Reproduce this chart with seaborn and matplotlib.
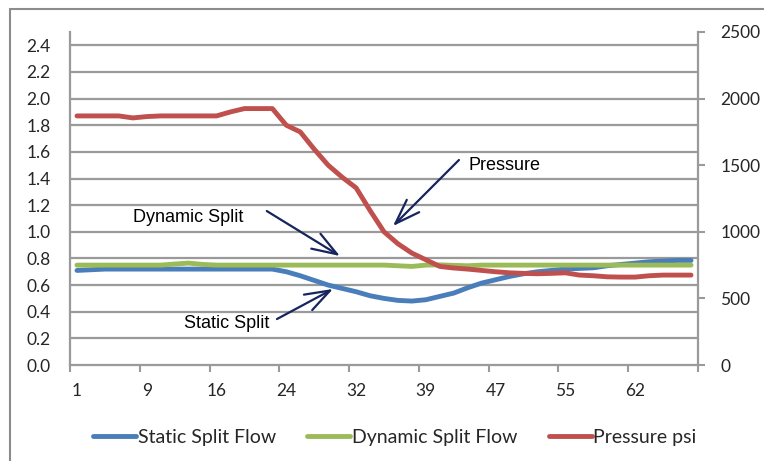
import numpy as np
import pandas as pd
import matplotlib
matplotlib.use("Agg")
import matplotlib.pyplot as plt
import seaborn as sns
from matplotlib.lines import Line2D

# values, one point per sample
static_split = [0.71, 0.715, 0.72, 0.72, 0.72, 0.72, 0.72, 0.72, 0.72, 0.72,
                0.72, 0.72, 0.72, 0.72, 0.72, 0.70, 0.67, 0.635, 0.60, 0.575,
                0.55, 0.52, 0.50, 0.485, 0.48, 0.49, 0.515, 0.54, 0.58, 0.615,
                0.64, 0.665, 0.685, 0.70, 0.71, 0.72, 0.725, 0.73, 0.745, 0.755,
                0.765, 0.775, 0.78, 0.785, 0.785]
dynamic_split = [0.75, 0.75, 0.75, 0.75, 0.75, 0.75, 0.75, 0.758, 0.765, 0.755,
                 0.75, 0.75, 0.75, 0.75, 0.75, 0.75, 0.75, 0.75, 0.75, 0.75,
                 0.75, 0.75, 0.75, 0.745, 0.74, 0.75, 0.752, 0.748, 0.745, 0.75,
                 0.75, 0.75, 0.75, 0.75, 0.75, 0.75, 0.75, 0.75, 0.75, 0.75,
                 0.75, 0.75, 0.75, 0.75, 0.75]
pressure = [1870, 1870, 1870, 1870, 1855, 1865, 1870, 1870, 1870, 1870,
            1870, 1900, 1925, 1925, 1925, 1800, 1750, 1620, 1500, 1410,
            1330, 1160, 1000, 910, 840, 790, 740, 728, 720, 710,
            700, 692, 688, 685, 688, 692, 675, 670, 662, 660,
            660, 670, 675, 675, 675]
tick_labels = ["1", "9", "16", "24", "32", "39", "47", "55", "62"]
label_every = 5

sample = np.arange(len(pressure))
df = pd.DataFrame({"sample": sample, "static": static_split,
                   "dynamic": dynamic_split, "pressure": pressure})

sns.set_style("white")
plt.rcParams["font.family"] = ["Lato", "DejaVu Sans"]

blue, green, red = "#4A7EBB", "#9BBB59", "#C0504D"
grid_c = "#9a9a9a"
navy = "#17255e"

fig = plt.figure(figsize=(7.64, 4.61), dpi=100)
ax = fig.add_axes([70 / 764, 1 - 365 / 461, 628 / 764, 333 / 461])
ax2 = ax.twinx()

sns.lineplot(data=df, x="sample", y="static", ax=ax, color=blue, lw=3.5)
sns.lineplot(data=df, x="sample", y="dynamic", ax=ax, color=green, lw=3.5)
sns.lineplot(data=df, x="sample", y="pressure", ax=ax2, color=red, lw=3.5)

ax.set_xlim(-0.5, len(sample) - 0.5)
ax.set_ylim(0, 2.5)
ax2.set_ylim(0, 2500)
ax.set_xlabel("")
ax.set_ylabel("")
ax2.set_ylabel("")

# gridlines every 0.2 up to 2.4
for v in np.arange(0.2, 2.41, 0.2):
    ax.axhline(v, color=grid_c, lw=1.6, zorder=0)

ax.set_yticks(np.round(np.arange(0, 2.41, 0.2), 1))
ax.set_yticklabels([f"{v:.1f}" for v in np.arange(0, 2.41, 0.2)])
ax.tick_params(axis="y", length=0, pad=14, labelsize=12.5)

ax2.set_yticks([0, 500, 1000, 1500, 2000, 2500])
ax2.tick_params(axis="y", length=5, width=1.5, color=grid_c, pad=11,
                labelsize=12.5)

# category style x axis: ticks on boundaries, labels on centres
ax.set_xticks(np.arange(-0.5, len(sample), label_every), minor=False)
ax.set_xticklabels([])
ax.set_xticks(sample[::label_every], minor=True)
ax.set_xticklabels(tick_labels, minor=True)
ax.tick_params(axis="x", which="major", length=5, width=1.5, color=grid_c,
               bottom=True)
ax.tick_params(axis="x", which="minor", length=0, pad=13, labelsize=12.5)

for a in (ax, ax2):
    for s in a.spines.values():
        s.set_visible(False)
ax.spines["left"].set_visible(True)
ax.spines["bottom"].set_visible(True)
ax2.spines["right"].set_visible(True)
for s in (ax.spines["left"], ax.spines["bottom"], ax2.spines["right"]):
    s.set_color(grid_c)
    s.set_linewidth(1.6)

# annotations
arrow = dict(arrowstyle="->, head_length=1.0, head_width=0.35", color=navy,
             lw=1.6, mutation_scale=18, shrinkA=0, shrinkB=0)
tfont = dict(family=["Liberation Sans", "DejaVu Sans"], fontsize=13,
             color="black", ha="center", va="center")
ax.annotate("", xy=(18.85, 0.818), xytext=(13.6, 1.156), arrowprops=arrow)
ax.text(8.0, 1.11, "Dynamic Split", **tfont)
ax.annotate("", xy=(18.35, 0.571), xytext=(14.33, 0.345), arrowprops=arrow)
ax.text(10.7, 0.315, "Static Split", **tfont)
ax.annotate("", xy=(22.64, 1.043), xytext=(27.37, 1.539), arrowprops=arrow)
ax.text(30.6, 1.50, "Pressure", **tfont)

handles = [Line2D([], [], color=blue, lw=3.5),
           Line2D([], [], color=green, lw=3.5),
           Line2D([], [], color=red, lw=3.5)]
fig.legend(handles, ["Static Split Flow", "Dynamic Split Flow", "Pressure psi"],
           loc="center", bbox_to_anchor=(395 / 764, 1 - 437 / 461), ncol=3,
           frameon=False, fontsize=14, handlelength=2.2, handletextpad=0.1,
           columnspacing=1.6)

# chart area border
fig.add_artist(Line2D([10 / 764, 10 / 764], [0, 1 - 9 / 461],
                      color="#8c8c8c", lw=1.5))
fig.add_artist(Line2D([10 / 764, 1], [1 - 9 / 461, 1 - 9 / 461],
                      color="#8c8c8c", lw=1.5))

fig.savefig("out.png", dpi=100)
